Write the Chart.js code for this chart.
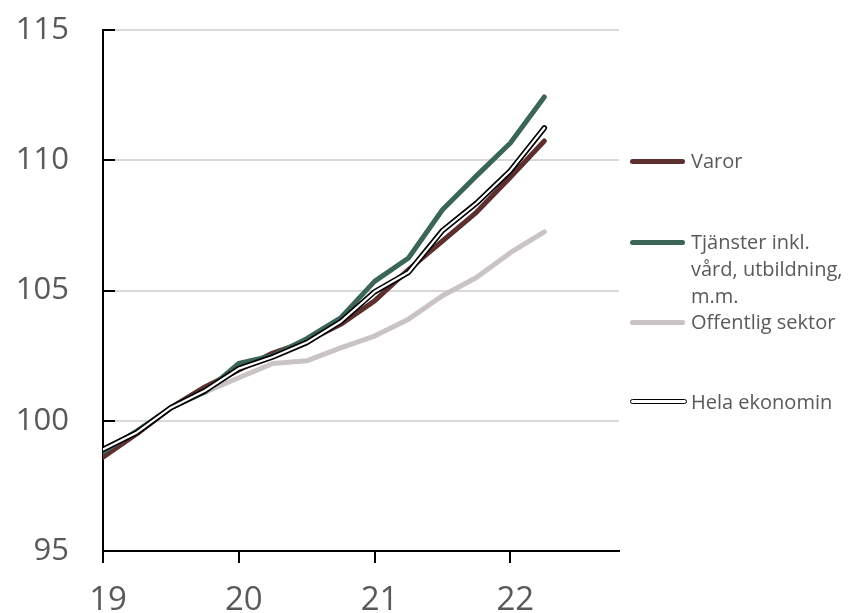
<!DOCTYPE html>
<html>
<head>
<meta charset="utf-8">
<script src="https://cdn.jsdelivr.net/npm/chart.js@4/dist/chart.umd.min.js"></script>
<style>
  html, body { margin: 0; padding: 0; background: #ffffff; }
  #wrap { position: relative; width: 848px; height: 613px; }
  #legend { position: absolute; left: 0; top: 0; width: 848px; height: 613px; pointer-events: none;
            font-family: "Open Sans", sans-serif; font-size: 20px; color: #595959; }
  .item { position: absolute; left: 630px; }
  .swatch { position: absolute; left: 0; width: 55px; height: 5px; border-radius: 3px; }
  .label { position: absolute; left: 61px; white-space: nowrap; line-height: 27px; }
</style>
</head>
<body>
<div id="wrap">
  <canvas id="c" width="848" height="613"></canvas>
  <div id="legend"></div>
</div>
<script>
// ---- data ----
const quarters   = [19, 19.25, 19.5, 19.75, 20, 20.25, 20.5, 20.75, 21, 21.25, 21.5, 21.75, 22, 22.25];
const varor      = [98.6, 99.5, 100.5, 101.3, 101.95, 102.6, 103.05, 103.7, 104.6, 105.8, 106.9, 108.0, 109.35, 110.74];
const tjanster   = [98.8, 99.6, 100.5, 101.1, 102.2, 102.5, 103.15, 103.95, 105.35, 106.25, 108.1, 109.4, 110.66, 112.43];
const offentlig  = [98.8, 99.6, 100.5, 101.1, 101.65, 102.2, 102.3, 102.8, 103.25, 103.9, 104.8, 105.5, 106.45, 107.25];
const hela       = [98.9, 99.55, 100.5, 101.15, 102.0, 102.45, 103.0, 103.8, 104.95, 105.7, 107.3, 108.35, 109.6, 111.24];
const xTicks     = [19, 20, 21, 22];
const yTicks     = [95, 100, 105, 110, 115];
const seriesNames = ["Varor", "Tjänster inkl.\nvård, utbildning,\nm.m.", "Offentlig sektor", "Hela ekonomin"];

const colVaror = "#5E2F2F", colTj = "#3C655A", colOff = "#C9C3C3";

const pts = arr => arr.map((v, i) => ({ x: quarters[i], y: v }));
const lineBase = { fill: false, pointRadius: 0, tension: 0, borderCapStyle: 'round', borderJoinStyle: 'round' };

const insideTicks = {
  id: 'insideTicks',
  afterDraw(chart) {
    const ctx = chart.ctx, ys = chart.scales.y, a = chart.chartArea;
    ctx.save();
    ctx.strokeStyle = '#000';
    ctx.lineWidth = 2;
    ys.ticks.forEach(t => {
      const py = Math.round(ys.getPixelForValue(t.value));
      ctx.beginPath();
      ctx.moveTo(a.left, py);
      ctx.lineTo(a.left + 12, py);
      ctx.stroke();
    });
    ctx.restore();
  }
};

const chart = new Chart(document.getElementById('c'), {
  type: 'line',
  data: {
    datasets: [
      Object.assign({ label: seriesNames[3] + ' (inner)', data: pts(hela), borderColor: '#ffffff', borderWidth: 2.2 }, lineBase),
      Object.assign({ label: seriesNames[3], data: pts(hela), borderColor: '#000000', borderWidth: 5.5 }, lineBase),
      Object.assign({ label: seriesNames[1], data: pts(tjanster), borderColor: colTj, borderWidth: 5 }, lineBase),
      Object.assign({ label: seriesNames[0], data: pts(varor), borderColor: colVaror, borderWidth: 5 }, lineBase),
      Object.assign({ label: seriesNames[2], data: pts(offentlig), borderColor: colOff, borderWidth: 5 }, lineBase)
    ]
  },
  options: {
    responsive: false,
    animation: false,
    events: [],
    layout: { padding: { top: 30, right: 229, left: 0, bottom: 0 } },
    plugins: { legend: { display: false }, tooltip: { enabled: false } },
    scales: {
      x: {
        type: 'linear', min: 19, max: 22.8,
        afterBuildTicks: s => { s.ticks = xTicks.map(v => ({ value: v })); },
        afterFit: s => { s.height = 62; s.paddingLeft = 0; s.paddingRight = 0; },
        grid: { drawOnChartArea: false, drawTicks: true, tickLength: 12, color: '#000', lineWidth: 2 },
        border: { display: true, color: '#000', width: 2 },
        ticks: { padding: 18, labelOffset: 5, color: '#595959', font: { family: 'Open Sans', size: 33 }, maxRotation: 0, callback: v => String(v) }
      },
      y: {
        min: 95, max: 115,
        afterBuildTicks: s => { s.ticks = yTicks.map(v => ({ value: v })); },
        afterFit: s => { s.width = 103; s.paddingTop = 0; s.paddingBottom = 0; },
        grid: { drawTicks: false, color: c => (c.tick && c.tick.value === 95) ? 'rgba(0,0,0,0)' : '#D9D9D9', lineWidth: 2 },
        border: { display: true, color: '#000', width: 2 },
        ticks: { padding: 34, color: '#595959', font: { family: 'Open Sans', size: 31 }, callback: v => String(v) }
      }
    }
  },
  plugins: [insideTicks]
});

// ---- legend (HTML) ----
const legend = document.getElementById('legend');
const legendItems = [
  { name: seriesNames[0], color: colVaror, top: 161 },
  { name: seriesNames[1], color: colTj, top: 242 },
  { name: seriesNames[2], color: colOff, top: 322 },
  { name: seriesNames[3], color: null, top: 402 }
];
legendItems.forEach(it => {
  const d = document.createElement('div');
  d.className = 'item';
  d.style.top = it.top + 'px';
  const sw = document.createElement('div');
  sw.className = 'swatch';
  if (it.color) {
    sw.style.background = it.color;
    sw.style.top = '-2.5px';
  } else {
    sw.style.background = '#fff';
    sw.style.border = '1.6px solid #000';
    sw.style.height = '2.4px';
    sw.style.top = '-2.8px';
  }
  const lb = document.createElement('div');
  lb.className = 'label';
  lb.style.top = '-14px';
  lb.innerHTML = it.name.split('\n').join('<br>');
  d.appendChild(sw);
  d.appendChild(lb);
  legend.appendChild(d);
});
</script>
</body>
</html>
